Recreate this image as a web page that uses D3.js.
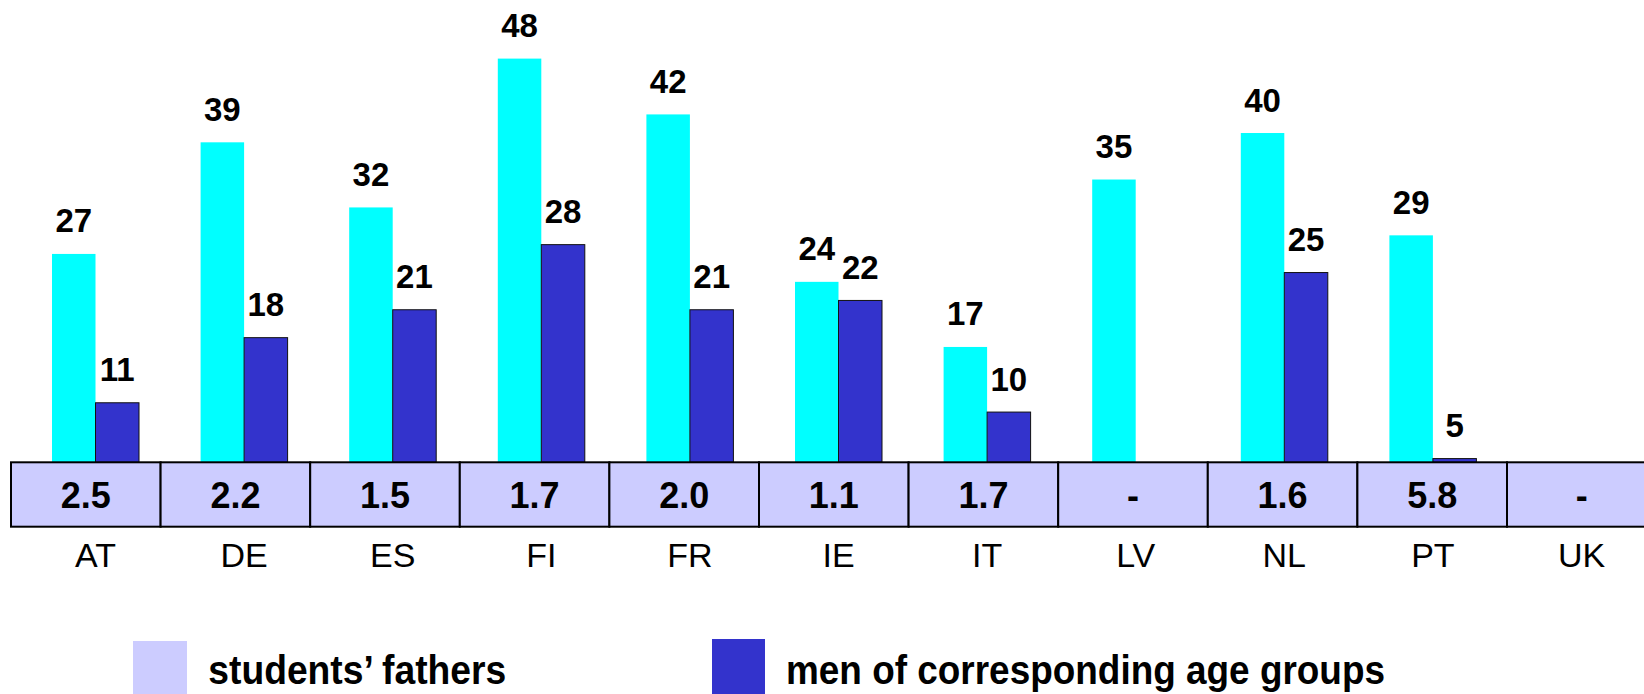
<!DOCTYPE html>
<html>
<head>
<meta charset="utf-8">
<script src="https://cdn.jsdelivr.net/npm/d3@7"></script>
<style>
  body { margin: 0; background: #fff; }
  svg { display: block; }
  text { font-family: "Liberation Sans", Arial, sans-serif; }
</style>
</head>
<body>
<div id="chart"></div>
<script>
var WIDTH = 1644;
var HEIGHT = 694;

// data
var countries = ["AT", "DE", "ES", "FI", "FR", "IE", "IT", "LV", "NL", "PT", "UK"];
var fathers = [27, 39, 32, 48, 42, 24, 17, 35, 40, 29, null];
var men = [11, 18, 21, 28, 21, 22, 10, null, 25, 5, null];
var ratio = ["2.5", "2.2", "1.5", "1.7", "2.0", "1.1", "1.7", "-", "1.6", "5.8", "-"];
var seriesKeys = ["fathers", "men"];
var legendLabels = ["students\u2019 fathers", "men of corresponding age groups"];

var colors = { fathers: "#00ffff", men: "#3333cc" };
var legendColors = ["#ccccff", "#3333cc"];

var baseline = 462.3;

var svg = d3.select("#chart").append("svg")
  .attr("width", WIDTH)
  .attr("height", HEIGHT);

// bar groups are spaced a little tighter than the table cells
var x = d3.scaleBand().domain(countries).range([52, 52 + 148.6 * countries.length]);
var xs = d3.scaleBand().domain(seriesKeys).range([0, 87]);
var xt = d3.scaleBand().domain(countries).range([11, 11 + 149.6 * countries.length]);
var y = d3.scaleLinear().domain([4.6, 54.3]).range([baseline, 0]);

var rows = countries.map(function(c, i) {
  return { country: c, fathers: fathers[i], men: men[i], ratio: ratio[i] };
});

var g = svg.append("g");

rows.forEach(function(d) {
  seriesKeys.forEach(function(k) {
    var v = d[k];
    if (v == null) return;
    var bx = x(d.country) + xs(k);
    g.append("rect")
      .attr("x", bx)
      .attr("y", y(v))
      .attr("width", xs.bandwidth())
      .attr("height", baseline - y(v))
      .attr("fill", colors[k])
      .attr("stroke", k === "men" ? "#111" : "none")
      .attr("stroke-width", 1);
    g.append("text")
      .attr("x", bx + xs.bandwidth() / 2)
      .attr("y", y(v) - 21.5)
      .attr("text-anchor", "middle")
      .style("font-size", "33px")
      .style("font-weight", "bold")
      .text(v);
  });
});

// table row with the ratios
var table = svg.append("g");
table.selectAll("rect")
  .data(rows)
  .enter().append("rect")
  .attr("x", function(d) { return xt(d.country); })
  .attr("y", baseline)
  .attr("width", xt.bandwidth())
  .attr("height", 526.7 - baseline)
  .attr("fill", "#ccccff")
  .attr("stroke", "#000")
  .attr("stroke-width", 2);

table.selectAll("text")
  .data(rows)
  .enter().append("text")
  .attr("x", function(d) { return xt(d.country) + xt.bandwidth() / 2; })
  .attr("y", 508.3)
  .attr("text-anchor", "middle")
  .style("font-size", "36px")
  .style("font-weight", "bold")
  .text(function(d) { return d.ratio; });

// country labels under the table
svg.append("g").selectAll("text")
  .data(countries)
  .enter().append("text")
  .attr("x", function(d) { return x(d) + 43.5; })
  .attr("y", 566.7)
  .attr("text-anchor", "middle")
  .style("font-size", "34px")
  .text(function(d) { return d; });

// legend (text is a bit squeezed horizontally in the original)
var legendX = [133, 712];
var legendY = [641, 639];
var legendW = [54, 53];
var legendTextX = [208.3, 786];
var legendTextW = [298, 599];
var legend = svg.append("g");
legendLabels.forEach(function(label, i) {
  legend.append("rect")
    .attr("x", legendX[i])
    .attr("y", legendY[i])
    .attr("width", legendW[i])
    .attr("height", 60)
    .attr("fill", legendColors[i]);
  legend.append("text")
    .attr("x", legendTextX[i])
    .attr("y", 684)
    .attr("textLength", legendTextW[i])
    .attr("lengthAdjust", "spacingAndGlyphs")
    .style("font-size", "41px")
    .style("font-weight", "bold")
    .text(label);
});
</script>
</body>
</html>
